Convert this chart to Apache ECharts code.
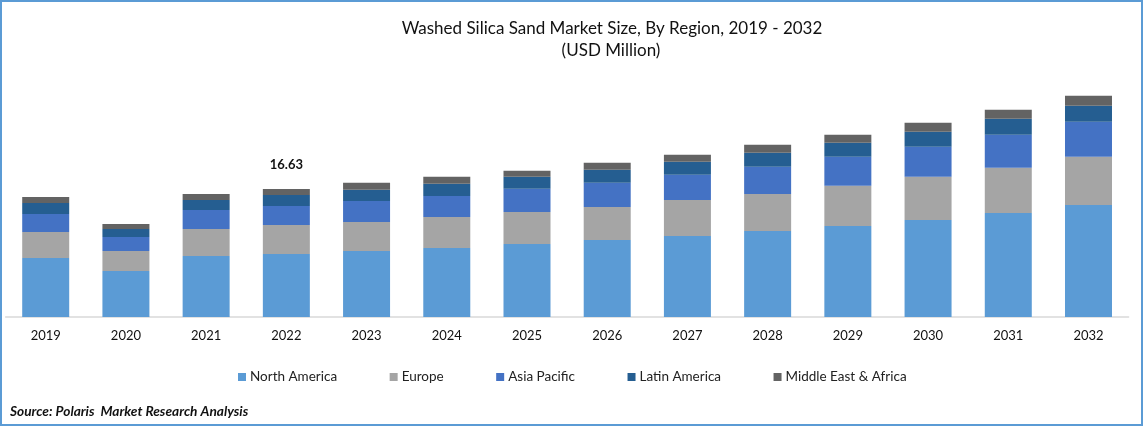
<!DOCTYPE html>
<html>
<head>
<meta charset="utf-8">
<style>html,body{margin:0;padding:0;background:#fff}#c{width:1143px;height:426px}</style>
<script src="https://cdn.jsdelivr.net/npm/echarts@6/dist/echarts.min.js"></script>
</head>
<body>
<div id="c"></div>
<script>
const categories = ['2019','2020','2021','2022','2023','2024','2025','2026','2027','2028','2029','2030','2031','2032'];
const northAmerica = [7.67,5.98,7.93,8.19,8.58,8.97,9.49,10.01,10.53,11.18,11.83,12.61,13.52,14.56];
const europe       = [3.38,2.60,3.51,3.77,3.77,4.03,4.16,4.29,4.68,4.81,5.20,5.59,5.85,6.24];
const asiaPacific  = [2.34,1.82,2.47,2.47,2.73,2.73,2.99,3.12,3.25,3.51,3.77,3.90,4.29,4.55];
const latinAmerica = [1.43,1.04,1.30,1.43,1.43,1.56,1.56,1.69,1.69,1.82,1.82,1.95,2.08,2.08];
const middleEast   = [0.78,0.65,0.78,0.77,0.91,0.91,0.78,0.91,0.91,1.04,1.04,1.17,1.17,1.30];
const labelledYear = '2022';
const labelledTotal = '16.63';

const FONT = 'Lato, "Open Sans", sans-serif';
const chart = echarts.init(document.getElementById('c'), null, {renderer: 'canvas'});
const names = ['North America','Europe','Asia Pacific','Latin America','Middle East & Africa'];
const colors = ['#5B9BD5','#A5A5A5','#4472C4','#255E91','#636363'];
const values = [northAmerica, europe, asiaPacific, latinAmerica, middleEast];

chart.setOption({
  animation: false,
  backgroundColor: '#fff',
  title: [
    {text: 'Washed Silica Sand Market Size, By Region, 2019 - 2032', left: 607, top: 15, textAlign: 'center',
     textStyle: {fontFamily: FONT, fontSize: 17, fontWeight: 'normal', color: '#111'}},
    {text: '(USD Million)', left: 606, top: 37.5, textAlign: 'center',
     textStyle: {fontFamily: FONT, fontSize: 17, fontWeight: 'normal', color: '#111'}},
    {text: 'Source: Polaris  Market Research Analysis', left: 5, top: 400,
     textStyle: {fontFamily: FONT, fontSize: 13.7, fontWeight: 'bold', fontStyle: 'italic', color: '#111'}}
  ],
  legend: {
    left: 233, top: 365, itemWidth: 8, itemHeight: 8, itemGap: 52.5, icon: 'rect',
    data: names,
    textStyle: {fontFamily: FONT, fontSize: 13.5, color: '#222', padding: [0,0,0,-1]}
  },
  grid: {left: 5.6, width: 1123, top: 86, height: 231},
  xAxis: {
    type: 'category', data: categories,
    axisLine: {lineStyle: {color: '#D9D9D9', width: 1.5}},
    axisTick: {show: false},
    axisLabel: {fontFamily: FONT, fontSize: 13, color: '#111', margin: 12}
  },
  yAxis: {type: 'value', min: 0, max: 30, show: false, splitLine: {show: false}},
  series: names.map((n, i) => ({
    name: n, type: 'bar', stack: 'total', barWidth: 47,
    itemStyle: {color: colors[i]},
    data: values[i].map((v, j) => (i === 4 && categories[j] === labelledYear)
      ? {value: v, label: {show: true, position: 'top', distance: 18, formatter: labelledTotal,
          fontFamily: FONT, fontSize: 13, fontWeight: 'bold', color: '#111'}}
      : v)
  })),
  graphic: [{
    type: 'rect', silent: true, z: 100,
    shape: {x: 1, y: 1, width: 1141, height: 424},
    style: {fill: 'none', stroke: '#5B9BD5', lineWidth: 2}
  }]
});
</script>
</body>
</html>
